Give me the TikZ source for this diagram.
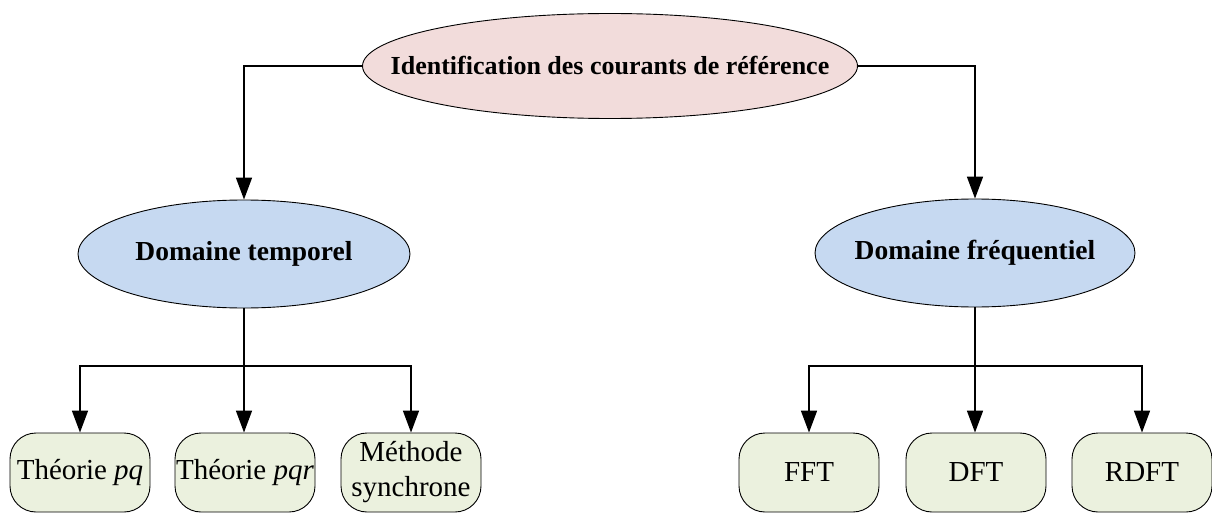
\documentclass[tikz,border=0pt]{standalone}
\usepackage{fontspec}
\setmainfont{Liberation Serif}
\usetikzlibrary{shapes.geometric,arrows.meta}
\definecolor{pinkfill}{RGB}{242,220,219}
\definecolor{bluefill}{RGB}{198,217,241}
\definecolor{greenfill}{RGB}{235,241,222}
\tikzset{
  topell/.style={ellipse,draw=black,line width=0.9pt,fill=pinkfill,inner sep=0pt,
    minimum width=495pt,minimum height=105pt,font=\fontsize{26}{30}\selectfont\bfseries},
  midell/.style={ellipse,draw=black,line width=0.9pt,fill=bluefill,inner sep=0pt,
    minimum height=108pt,font=\fontsize{27.5}{32}\selectfont\bfseries},
  leafbox/.style={rectangle,rounded corners=26pt,draw=black,line width=0.9pt,fill=greenfill,
    minimum width=140pt,minimum height=79pt,inner sep=0pt,align=center,
    font=\fontsize{29}{34}\selectfont},
  conn/.style={line width=1.6pt,draw=black},
  arr/.style={conn,-{Triangle[length=22pt,width=16pt]}}
}
\begin{document}
\begin{tikzpicture}[x=1pt,y=-1pt]
\useasboundingbox (0,0) rectangle (1212,513);
\node[topell] (top) at (610,66) {\makebox[0pt]{Identification des courants de référence}};
\node[midell,minimum width=332pt] (left) at (244,254) {\makebox[0pt]{Domaine temporel}};
\node[midell,minimum width=320pt] (right) at (975,253) {\makebox[0pt]{Domaine fréquentiel}};
\node[leafbox] (pq) at (80,472.5) {Théorie \textit{pq}};
\node[leafbox] (pqr) at (245,472.5) {Théorie \textit{pqr}};
\node[leafbox,font=\fontsize{29}{35}\selectfont] (ms) at (411,472.5) {Méthode\\synchrone};
\node[leafbox] (fft) at (809,472.5) {FFT};
\node[leafbox] (dft) at (976,472.5) {DFT};
\node[leafbox] (rdft) at (1142,472.5) {RDFT};
\coordinate (lj) at (244,366);
\coordinate (rj) at (975,366);
\draw[arr] (top.west) -| (left.north);
\draw[arr] (top.east) -| (right.north);
\draw[conn] (left.south) -- (lj);
\draw[conn] (right.south) -- (rj);
\draw[arr] (lj) -| (pq.north);
\draw[arr] (lj) -- (lj |- pqr.north);
\draw[arr] (lj) -| (ms.north);
\draw[arr] (rj) -| (fft.north);
\draw[arr] (rj) -- (rj |- dft.north);
\draw[arr] (rj) -| (rdft.north);
\end{tikzpicture}
\end{document}
